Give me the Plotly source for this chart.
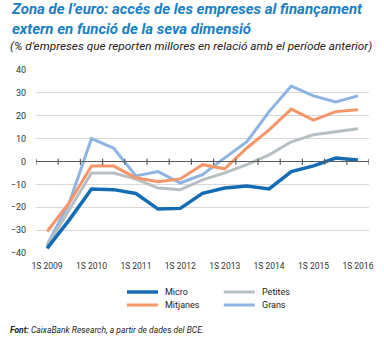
import plotly.graph_objects as go

categories = ["1S 2009", "2S 2009", "1S 2010", "2S 2010", "1S 2011", "2S 2011", "1S 2012", "2S 2012",
              "1S 2013", "2S 2013", "1S 2014", "2S 2014", "1S 2015", "2S 2015", "1S 2016"]
tick_labels = ["1S 2009", "1S 2010", "1S 2011", "1S 2012", "1S 2013", "1S 2014", "1S 2015", "1S 2016"]

micro = [-38, -25.5, -12, -12.3, -14, -20.8, -20.5, -13.9, -11.6, -10.7, -12, -4.4, -1.9, 1.5, 0.7]
mitjanes = [-30.6, -18, -2, -2, -7.1, -8.8, -7.6, -1.4, -3.2, 5.9, 13.8, 22.9, 18.1, 21.8, 22.6]
petites = [-37, -21, -5, -5, -7.7, -11.6, -12.3, -8, -5, -1.4, 2.9, 8.6, 11.7, 13, 14.3]
grans = [-36.5, -18, 10, 5.8, -6.3, -4.4, -9.4, -5.8, 1.6, 8.7, 21.8, 33, 28.7, 26, 28.7]

series_names = ["Micro", "Mitjanes", "Petites", "Grans"]
colors = {"Micro": "#136cb4", "Mitjanes": "#f4956a", "Petites": "#b8bfc3", "Grans": "#8db4e2"}
widths = {"Micro": 3.5, "Mitjanes": 3, "Petites": 3, "Grans": 3}
data = {"Micro": micro, "Mitjanes": mitjanes, "Petites": petites, "Grans": grans}

title_lines = ["Zona de l’euro: accés de les empreses al finançament",
               "extern en funció de la seva dimensió"]
subtitle = "(% d’empreses que reporten millores en relació amb el període anterior)"
source_label = "Font:"
source_text = " CaixaBank Research, a partir de dades del BCE."

W, H = 384, 338
L, R, T, B = 29, 11, 70, 85
pw, ph = W - L - R, H - T - B

def px(x):
    return (x - L) / pw

def py(y):
    return (H - B - y) / ph

fig = go.Figure()
for name in ["Grans", "Petites", "Mitjanes", "Micro"]:
    fig.add_trace(go.Scatter(x=categories, y=data[name], mode="lines", name=name,
                             line=dict(color=colors[name], width=widths[name]),
                             showlegend=False))

font_family = "Roboto"
txt = "#333333"

# zero line with tick marks at category boundaries
shapes = [dict(type="line", xref="x", yref="y", x0=-0.5, x1=14.5, y0=0, y1=0,
               line=dict(color="#5a5a5a", width=1.2))]
for i in range(len(categories) + 1):
    shapes.append(dict(type="line", xref="x", yref="paper", x0=i - 0.5, x1=i - 0.5,
                       y0=py(164.7), y1=py(158.7), line=dict(color="#5a5a5a", width=1.2)))

annotations = [
    dict(text="<b><i>" + "<br>".join(title_lines) + "</i></b>",
         xref="paper", yref="paper", x=px(1), y=py(-2), xanchor="left", yanchor="top", align="left",
         showarrow=False, font=dict(family=font_family, size=15, color="#1a80c4")),
    dict(text="<i>" + subtitle + "</i>",
         xref="paper", yref="paper", x=px(0), y=py(46), xanchor="left", yanchor="middle", showarrow=False,
         font=dict(family=font_family, size=11.8, color="#222222")),
    dict(text="<b><i>" + source_label + "</i></b><i>" + source_text + "</i>",
         xref="paper", yref="paper", x=px(0), y=py(330), xanchor="left", yanchor="middle", showarrow=False,
         font=dict(family=font_family, size=8.5, color="#222222")),
]

# legend (manual, 2 columns)
legend_pos = {"Micro": (123, 292), "Mitjanes": (123, 305), "Petites": (223, 292), "Grans": (223, 305)}
for name in series_names:
    x0, y0 = legend_pos[name]
    shapes.append(dict(type="line", xref="paper", yref="paper", x0=px(x0), x1=px(x0 + 32),
                       y0=py(y0), y1=py(y0), line=dict(color=colors[name], width=widths[name])))
    annotations.append(dict(text=name, xref="paper", yref="paper", x=px(x0 + 37), y=py(y0),
                            xanchor="left", yanchor="middle", showarrow=False,
                            font=dict(family=font_family, size=9, color="#222222")))

fig.update_layout(
    width=W, height=H, margin=dict(l=L, r=R, t=T, b=B),
    paper_bgcolor="white", plot_bgcolor="white",
    showlegend=False,
    font=dict(family=font_family, size=9, color=txt),
    xaxis=dict(type="category", range=[-0.5, 14.5], tickvals=tick_labels, ticktext=tick_labels,
               showgrid=False, showline=False, ticks="", zeroline=False, ticklabelstandoff=6,
               tickfont=dict(size=8.5, color=txt)),
    yaxis=dict(range=[-40, 40], dtick=10, showgrid=True, gridcolor="#d9d9d9", gridwidth=1,
               zeroline=False, showline=False, ticks="", ticklabelstandoff=9,
               tickfont=dict(size=9, color=txt)),
    shapes=shapes,
    annotations=annotations,
)

fig.write_html("out.html")
